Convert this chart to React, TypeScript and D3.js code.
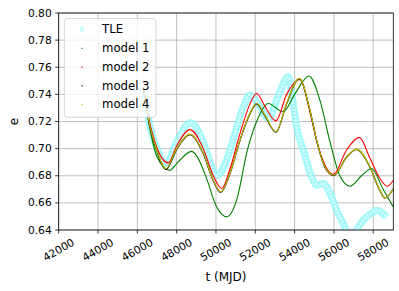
import React from 'react';
import * as d3 from 'd3';

// TLE observations (MJD, eccentricity)
const tleT = [46300, 46650, 47000, 47450, 48000, 48700, 49300, 49700, 50050, 50500, 51000, 51400, 51728, 52200, 52660, 53200, 53680, 53930, 54100, 54440, 54870, 55120, 55460, 55800, 56140, 56475, 56900, 57150, 57490, 58000, 58170, 58680];
const tleE = [0.745, 0.716, 0.700, 0.689, 0.705, 0.719, 0.707, 0.690, 0.680, 0.690, 0.713, 0.731, 0.7395, 0.732, 0.7223, 0.740, 0.753, 0.7333, 0.716, 0.699, 0.679, 0.673, 0.6743, 0.667, 0.6546, 0.6448, 0.633, 0.640, 0.6472, 0.6533, 0.6546, 0.6497];

const m1T = [46300, 46650, 47000, 47660, 48000, 48763, 49000, 49500, 50000, 50543, 51051, 51600, 52068, 52660, 53420, 54000, 54730, 55300, 55800, 56300, 56815, 57400, 57917, 58500, 59020];
const m1E = [0.745, 0.714, 0.694, 0.684, 0.689, 0.698, 0.695, 0.679, 0.658, 0.6497, 0.662, 0.699, 0.720, 0.7333, 0.7271, 0.740, 0.7535, 0.735, 0.705, 0.680, 0.6723, 0.680, 0.6854, 0.670, 0.657];

const m2T = [46300, 46650, 46985, 47573, 48000, 48677, 49355, 49863, 50290, 50711, 51220, 51728, 52068, 52500, 53050, 53593, 54270, 54780, 55119, 55542, 55966, 56645, 57290, 57830, 58339, 58711, 59020];
const m2E = [0.745, 0.718, 0.701, 0.6895, 0.702, 0.714, 0.700, 0.680, 0.6706, 0.685, 0.711, 0.733, 0.7407, 0.731, 0.7205, 0.740, 0.751, 0.727, 0.706, 0.688, 0.681, 0.699, 0.7083, 0.693, 0.678, 0.6723, 0.6767];

const m3T = [46300, 46650, 46985, 47456, 48000, 48677, 49355, 49863, 50237, 50711, 51220, 51728, 52068, 52500, 53050, 53593, 54237, 54780, 55119, 55542, 56000, 56645, 57150, 57830, 58339, 58593, 59020];
const m3E = [0.745, 0.7155, 0.6985, 0.6848, 0.6995, 0.7103, 0.6962, 0.6764, 0.6677, 0.6815, 0.7061, 0.7258, 0.7331, 0.724, 0.7121, 0.7331, 0.7516, 0.7282, 0.7061, 0.6864, 0.6802, 0.6938, 0.6994, 0.6864, 0.6691, 0.6635, 0.6704];

const m4T = [46300, 46650, 46985, 47456, 48000, 48677, 49355, 49863, 50237, 50711, 51220, 51728, 52068, 52500, 53050, 53593, 54237, 54780, 55119, 55542, 56000, 56645, 57150, 57830, 58339, 58593, 59020];
const m4E = [0.745, 0.716, 0.699, 0.6853, 0.700, 0.7107, 0.6965, 0.6767, 0.668, 0.6817, 0.7063, 0.726, 0.7333, 0.7245, 0.7124, 0.7333, 0.7518, 0.7284, 0.7063, 0.6866, 0.6804, 0.694, 0.6996, 0.6866, 0.6693, 0.6637, 0.6706];

const xTicks = [42000, 44000, 46000, 48000, 50000, 52000, 54000, 56000, 58000];
const yTicks = [0.64, 0.66, 0.68, 0.70, 0.72, 0.74, 0.76, 0.78, 0.80];

const models = [
  { name: 'model 1', t: m1T, e: m1E, color: 'green' },
  { name: 'model 2', t: m2T, e: m2E, color: 'red' },
  { name: 'model 3', t: m3T, e: m3E, color: 'black' },
  { name: 'model 4', t: m4T, e: m4E, color: '#bfbf00' },
];

const W = 399, H = 291;
const left = 58.7, right = 393.3, top = 13, bottom = 230;
const font = 'DejaVu Sans, sans-serif';

export default function App() {
  const x = d3.scaleLinear().domain([42000, 59020]).range([left, right]);
  const y = d3.scaleLinear().domain([0.64, 0.80]).range([bottom, top]);

  const line = (t: number[], e: number[]) =>
    d3.line<number>()
      .x((_, i) => x(t[i]))
      .y(d => y(d))
      .curve(d3.curveMonotoneX)(e) || '';

  const tlePath = line(tleT, tleE);

  return (
    <svg width={W} height={H} style={{ position: 'absolute', left: 0, top: 0 }} fontFamily={font}>
      <rect width={W} height={H} fill="white" />
      <defs>
        <clipPath id="plot">
          <rect x={left} y={top} width={right - left} height={bottom - top} />
        </clipPath>
      </defs>

      {/* grid */}
      {xTicks.map(t => (
        <line key={'gx' + t} x1={x(t)} x2={x(t)} y1={top} y2={bottom} stroke="#b0b0b0" strokeWidth={0.8} />
      ))}
      {yTicks.map(v => (
        <line key={'gy' + v} x1={left} x2={right} y1={y(v)} y2={y(v)} stroke="#b0b0b0" strokeWidth={0.8} />
      ))}

      <g clipPath="url(#plot)">
        {/* TLE band of dense diamond markers */}
        <path d={tlePath} fill="none" stroke="#8af7f7" strokeOpacity={0.8} strokeWidth={7} strokeLinejoin="round" />
        <path d={tlePath} fill="none" stroke="#d8fdfd" strokeWidth={3} strokeDasharray="2,1.5" strokeLinejoin="round" />
        {models.map(m => (
          <path key={m.name} d={line(m.t, m.e)} fill="none" stroke={m.color} strokeWidth={m.color === 'black' ? 1.3 : 1.1} />
        ))}
      </g>

      {/* spines */}
      <rect x={left} y={top} width={right - left} height={bottom - top} fill="none" stroke="black" strokeWidth={0.8} />

      {/* y axis */}
      {yTicks.map(v => (
        <g key={'yt' + v}>
          <line x1={left - 3.5} x2={left} y1={y(v)} y2={y(v)} stroke="black" strokeWidth={0.8} />
          <text x={left - 7} y={y(v)} textAnchor="end" dominantBaseline="central" fontSize={10.7} fill="black">
            {v.toFixed(2)}
          </text>
        </g>
      ))}
      <text transform={`translate(14,${(top + bottom) / 2}) rotate(-90)`} textAnchor="middle" dominantBaseline="central" fontSize={12} fill="black">e</text>

      {/* x axis */}
      {xTicks.map(t => (
        <g key={'xt' + t}>
          <line x1={x(t)} x2={x(t)} y1={bottom} y2={bottom + 3.5} stroke="black" strokeWidth={0.8} />
          <text transform={`translate(${x(t)},${bottom + 20}) rotate(-30)`} textAnchor="middle" dominantBaseline="central" fontSize={10.7} fill="black">
            {t}
          </text>
        </g>
      ))}
      <text x={(left + right) / 2} y={280.5} textAnchor="middle" fontSize={12} fill="black">t (MJD)</text>

      {/* legend */}
      <rect x={64.3} y={18.5} width={91.7} height={98.8} rx={3} fill="white" fillOpacity={0.8} stroke="#cccccc" strokeWidth={0.8} />
      <path d="M82,26.8 L84.3,29.3 L82,31.8 L79.7,29.3 Z" fill="#e8fefe" stroke="#8af7f7" strokeWidth={0.8} />
      <text x={102} y={29.3} dominantBaseline="central" fontSize={11.7} fill="black">TLE</text>
      {models.map((m, i) => {
        const ly = 48.3 + i * 18.7;
        return (
          <g key={'lg' + m.name}>
            <rect x={81.5} y={ly - 0.5} width={1.2} height={1.2} fill={m.color} />
            <text x={102} y={ly} dominantBaseline="central" fontSize={11.7} fill="black">{m.name}</text>
          </g>
        );
      })}
    </svg>
  );
}
